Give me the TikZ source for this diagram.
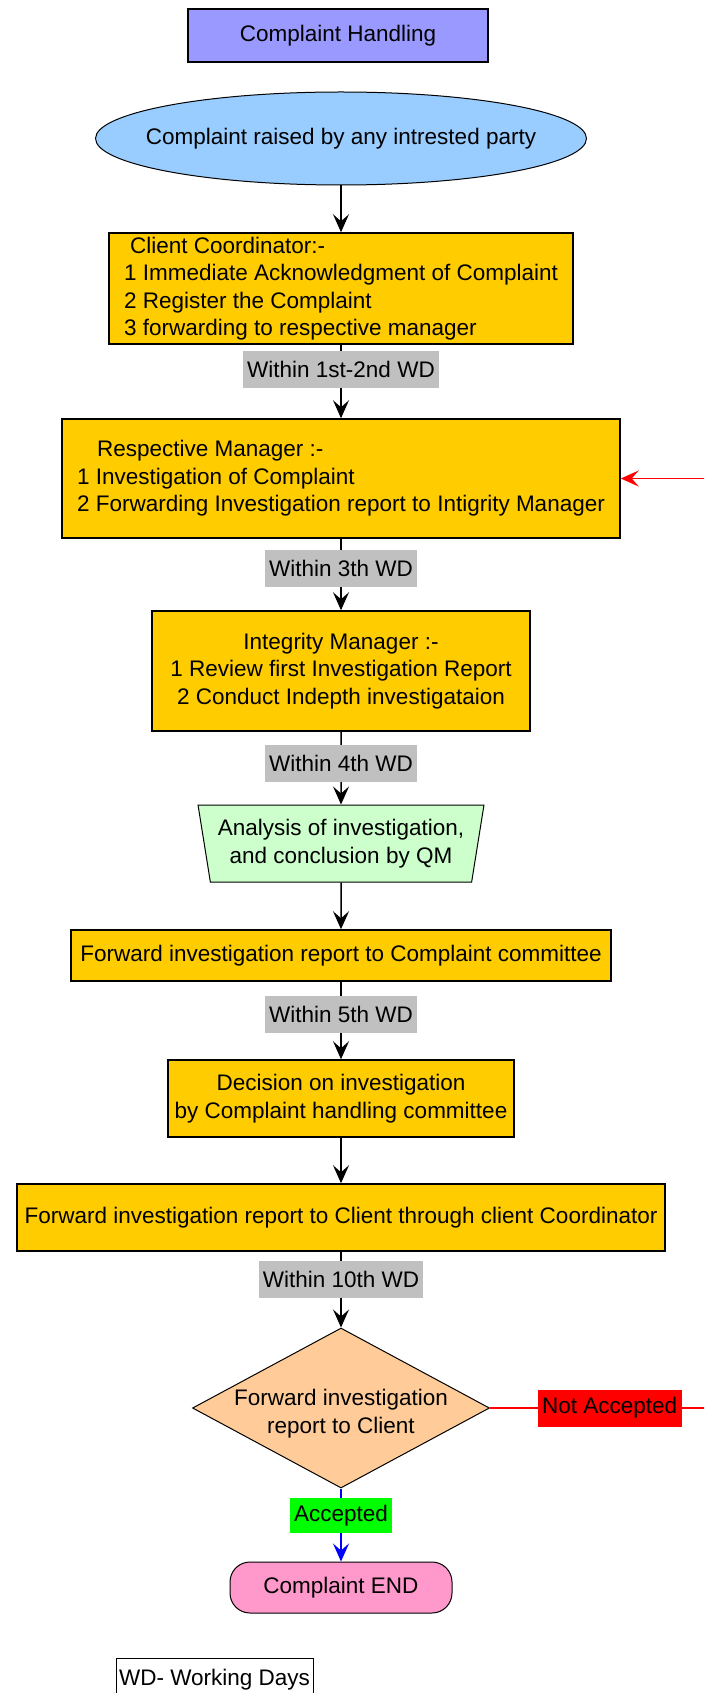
\documentclass[tikz,border=0pt]{standalone}
\usepackage{fontspec}
\setmainfont{Liberation Sans}
\usetikzlibrary{shapes.geometric,arrows.meta}
\definecolor{titlec}{HTML}{9999FF}
\definecolor{ellc}{HTML}{99CCFF}
\definecolor{boxc}{HTML}{FFCC00}
\definecolor{grayc}{HTML}{C0C0C0}
\definecolor{trapc}{HTML}{CCFFCC}
\definecolor{diac}{HTML}{FFCC99}
\definecolor{endc}{HTML}{FF99CC}
\definecolor{redc}{HTML}{FF0000}
\definecolor{greenc}{HTML}{00FF00}
\definecolor{bluec}{HTML}{0000FF}
\begin{document}
\begin{tikzpicture}[x=1pt,y=-1pt,
  every node/.style={font=\fontsize{22.5}{27.5}\selectfont, inner sep=0pt},
  stepbox/.style={draw=black, line width=1.5pt, fill=boxc, align=center},
  wdlabel/.style={fill=grayc, inner xsep=4pt, minimum height=37pt},
  tip/.style={-{Stealth[length=18pt,width=16pt,inset=7pt]}},
  arr/.style={draw=black, line width=1.5pt, tip},
]
\useasboundingbox (0,0) rectangle (704,1693);
\clip (0,0) rectangle (704,1693);
\fill[white] (0,0) rectangle (704,1693);

\node[draw, line width=1.5pt, fill=titlec, minimum width=300pt, minimum height=53pt] (title) at (338,35.5) {Complaint Handling};

\node[ellipse, draw, line width=1pt, fill=ellc, minimum width=491pt, minimum height=93pt] (start) at (341,138.5) {\makebox[0pt]{Complaint raised by any intrested party}};

\node[stepbox, align=left, minimum width=464pt, minimum height=111pt] (cc) at (341,288.5) {\hspace{6pt}Client Coordinator:-\\1 Immediate Acknowledgment of Complaint\\2 Register the Complaint\\3 forwarding to respective manager};

\node[stepbox, align=left, minimum width=558pt, minimum height=119pt] (rm) at (341,478.5) {\hspace{20pt}Respective Manager :-\\1 Investigation of Complaint\\2 Forwarding Investigation report to Intigrity Manager};

\node[stepbox, minimum width=378pt, minimum height=120pt] (im) at (341,671) {Integrity Manager :-\\1 Review first Investigation Report\\2 Conduct Indepth investigataion};

\node[trapezium, trapezium angle=76.5, shape border rotate=180, trapezium stretches=true, draw, line width=1pt, fill=trapc, align=center, minimum width=286pt, minimum height=77pt] (qm) at (341,843.5) {Analysis of investigation,\\and conclusion by QM};

\node[stepbox, minimum width=540pt, minimum height=51pt] (fc) at (341,955.5) {Forward investigation report to Complaint committee};

\node[stepbox, minimum width=346pt, minimum height=77pt] (dc) at (341,1098.5) {Decision on investigation\\by Complaint handling committee};

\node[stepbox, minimum width=648pt, minimum height=67pt] (fcl) at (341,1217.5) {Forward investigation report to Client through client Coordinator};

\node[diamond, draw, line width=1pt, fill=diac, minimum width=297pt, minimum height=160pt] (dec) at (341,1408) {\makebox[0pt]{\raisebox{-6pt}[\height][\depth]{\begin{tabular}{@{}c@{}}Forward investigation\\report to Client\end{tabular}}}};

\node[draw, line width=1pt, fill=endc, rounded corners=20pt, minimum width=222pt, minimum height=51pt] (end) at (341,1587.5) {Complaint END};

\node[draw, line width=1pt, fill=white, minimum width=197pt, minimum height=44pt] (wd) at (214.5,1680) {WD- Working Days};

\draw[arr] (start.south) -- (cc.north);
\draw[arr] (cc.south) -- node[wdlabel, pos=0.34] {Within 1st-2nd WD} (rm.north);
\draw[arr] (rm.south) -- node[wdlabel, pos=0.41] {Within 3th WD} (im.north);
\draw[arr] (im.south) -- node[wdlabel, pos=0.43] {Within 4th WD} (qm.north);
\draw[arr] (qm.south) -- (fc.north);
\draw[arr] (fc.south) -- node[wdlabel, pos=0.42] {Within 5th WD} (dc.north);
\draw[arr] (dc.south) -- (fcl.north);
\draw[arr] (fcl.south) -- node[wdlabel, pos=0.36] {Within 10th WD} (dec.north);
\draw[draw=bluec, line width=1.5pt, tip] (dec.south) -- node[fill=greenc, inner xsep=4pt, minimum height=35pt, pos=0.37] {Accepted} (end.north);
\draw[draw=redc, line width=1.5pt, tip] (dec.east) -- node[fill=redc, inner xsep=4.5pt, minimum height=37pt, pos=0.46] {Not Accepted} ++(260,0) |- (rm.east);
\end{tikzpicture}
\end{document}
